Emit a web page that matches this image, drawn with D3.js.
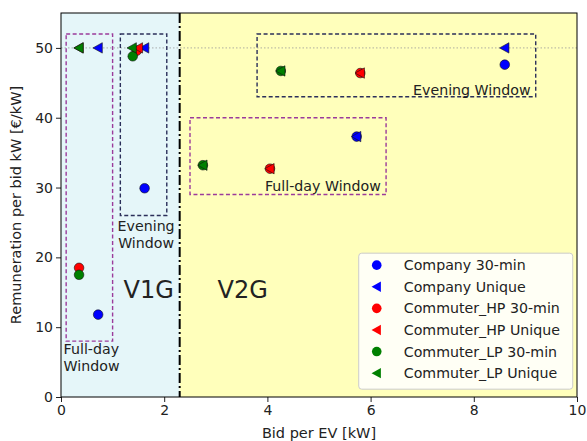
<!DOCTYPE html>
<html>
<head>
<meta charset="utf-8">
<script src="https://cdn.jsdelivr.net/npm/d3@7"></script>
<style>
  body { margin: 0; background: #fff; }
  svg text { font-family: "DejaVu Sans", sans-serif; }
</style>
</head>
<body>
<div id="chart"></div>
<script>
// Series: [bid kW, remuneration €/kW]
const company30 = [[0.72, 11.8], [1.62, 29.9], [5.73, 37.3], [8.6, 47.6]];
const companyUnique = [[0.72, 50], [1.62, 50], [5.73, 37.3], [8.6, 50]];
const hp30 = [[0.35, 18.5], [1.47, 49.6], [4.05, 32.7], [5.8, 46.4]];
const hpUnique = [[0.35, 50], [1.5, 50], [4.05, 32.7], [5.8, 46.4]];
const lp30 = [[0.35, 17.5], [1.39, 48.8], [2.75, 33.2], [4.26, 46.7]];
const lpUnique = [[0.35, 50], [1.38, 50], [2.75, 33.2], [4.26, 46.7]];

const series = [
    { label: "Company 30-min", data: company30, color: "#0000ff", shape: "circle" },
    { label: "Company Unique", data: companyUnique, color: "#0000ff", shape: "tri" },
    { label: "Commuter_HP 30-min", data: hp30, color: "#ff0000", shape: "circle" },
    { label: "Commuter_HP Unique", data: hpUnique, color: "#ff0000", shape: "tri" },
    { label: "Commuter_LP 30-min", data: lp30, color: "#008000", shape: "circle" },
    { label: "Commuter_LP Unique", data: lpUnique, color: "#008000", shape: "tri" }
];

// Window boxes [x0, x1, y0, y1]
const boxes = [
    { ext: [0.1, 1.0, 8, 52], color: "#9b3b9b" },
    { ext: [1.15, 2.05, 26, 52], color: "#2b2f5a" },
    { ext: [2.5, 6.3, 29, 40], color: "#9b3b9b" },
    { ext: [3.8, 9.2, 43, 52], color: "#2b2f5a" }
];

const xTicks = [0, 2, 4, 6, 8, 10];
const yTicks = [0, 10, 20, 30, 40, 50];
const split = 2.3;

const margin = { top: 13, right: 10, bottom: 44, left: 61 };
const width = 587 - margin.left - margin.right;
const height = 441 - margin.top - margin.bottom;

const svg = d3.select("#chart").append("svg")
    .attr("width", 587).attr("height", 441);
const g = svg.append("g").attr("transform", `translate(${margin.left},${margin.top})`);

const x = d3.scaleLinear().domain([0, 10]).range([0, width]);
const y = d3.scaleLinear().domain([0, 55]).range([height, 0]);

// backgrounds
g.append("rect").attr("x", x(0)).attr("y", 0)
    .attr("width", x(split) - x(0)).attr("height", height).attr("fill", "#e5f6f9");
g.append("rect").attr("x", x(split)).attr("y", 0)
    .attr("width", x(10) - x(split)).attr("height", height).attr("fill", "#ffffbb");

// dotted line at 50
g.append("line").attr("x1", 0).attr("x2", width)
    .attr("y1", y(50)).attr("y2", y(50))
    .attr("stroke", "#999").attr("stroke-width", 0.8).attr("stroke-dasharray", "1.5,2");

// separator
g.append("line").attr("x1", x(split)).attr("x2", x(split))
    .attr("y1", 0).attr("y2", height)
    .attr("stroke", "#000").attr("stroke-width", 2).attr("stroke-dasharray", "10,3,2,3");

// boxes
g.selectAll(".box").data(boxes).enter().append("rect")
    .attr("x", d => x(d.ext[0])).attr("y", d => y(d.ext[3]))
    .attr("width", d => x(d.ext[1]) - x(d.ext[0]))
    .attr("height", d => y(d.ext[2]) - y(d.ext[3]))
    .attr("fill", "none").attr("stroke", d => d.color)
    .attr("stroke-width", 1.4).attr("stroke-dasharray", "4,2.5");

// text labels
const txt = (xv, yv, s, anchor, size) => g.append("text")
    .attr("x", x(xv)).attr("y", y(yv)).attr("text-anchor", anchor)
    .attr("font-size", size).attr("fill", "#222").text(s);
txt(9.1, 43.3, "Evening Window", "end", 14.2);
txt(6.2, 29.5, "Full-day Window", "end", 14.2);
txt(1.65, 23.8, "Evening", "middle", 14.2);
txt(1.65, 21.4, "Window", "middle", 14.2);
txt(0.05, 6.1, "Full-day", "start", 14.2);
txt(0.05, 3.7, "Window", "start", 14.2);
txt(1.7, 14.2, "V1G", "middle", 24);
txt(3.52, 14.2, "V2G", "middle", 24);

// markers
const triPath = r => `M${-r},0L${r * 0.8},${-r}L${r * 0.8},${r}Z`;
function drawMarker(sel, d) {
    if (d.shape === "circle") {
        sel.append("circle").attr("r", 4.8);
    } else {
        sel.append("path").attr("d", triPath(5.2));
    }
}
series.forEach(s => {
    const grp = g.append("g");
    s.data.forEach(p => {
        const m = grp.append("g").attr("transform", `translate(${x(p[0])},${y(p[1])})`);
        drawMarker(m, s);
        m.selectAll("*").attr("fill", s.color).attr("stroke", "#111").attr("stroke-width", 0.6);
    });
});

// axes
const xAxis = g.append("g").attr("transform", `translate(0,${height})`)
    .call(d3.axisBottom(x).tickValues(xTicks).tickSize(5).tickPadding(3));
const yAxis = g.append("g")
    .call(d3.axisLeft(y).tickValues(yTicks).tickSize(5).tickPadding(3));
[xAxis, yAxis].forEach(a => {
    a.select(".domain").remove();
    a.selectAll("text").attr("font-size", 14).attr("fill", "#222")
        .attr("font-family", "DejaVu Sans");
    a.selectAll("line").attr("stroke", "#222");
});
g.append("rect").attr("width", width).attr("height", height)
    .attr("fill", "none").attr("stroke", "#000").attr("stroke-width", 1);

svg.append("text").attr("x", margin.left + width / 2).attr("y", 438)
    .attr("text-anchor", "middle").attr("font-size", 14.5).attr("fill", "#222")
    .text("Bid per EV [kW]");
svg.append("text").attr("transform", `translate(21,${margin.top + height / 2}) rotate(-90)`)
    .attr("text-anchor", "middle").attr("font-size", 14.5).attr("fill", "#222")
    .text("Remuneration per bid kW [€/kW]");

// legend
const lg = g.append("g").attr("transform", `translate(${x(5.77)},${y(20.6)})`);
lg.append("rect").attr("width", 214).attr("height", 136).attr("rx", 3)
    .attr("fill", "#fff").attr("fill-opacity", 0.85).attr("stroke", "#ccc");
series.forEach((s, i) => {
    const row = lg.append("g").attr("transform", `translate(0,${12 + i * 21.6})`);
    const m = row.append("g").attr("transform", "translate(18,0)");
    drawMarker(m, s);
    m.selectAll("*").attr("fill", s.color).attr("stroke", "none");
    row.append("text").attr("x", 45).attr("y", 5).attr("font-size", 14.2)
        .attr("fill", "#222").text(s.label);
});
</script>
</body>
</html>
